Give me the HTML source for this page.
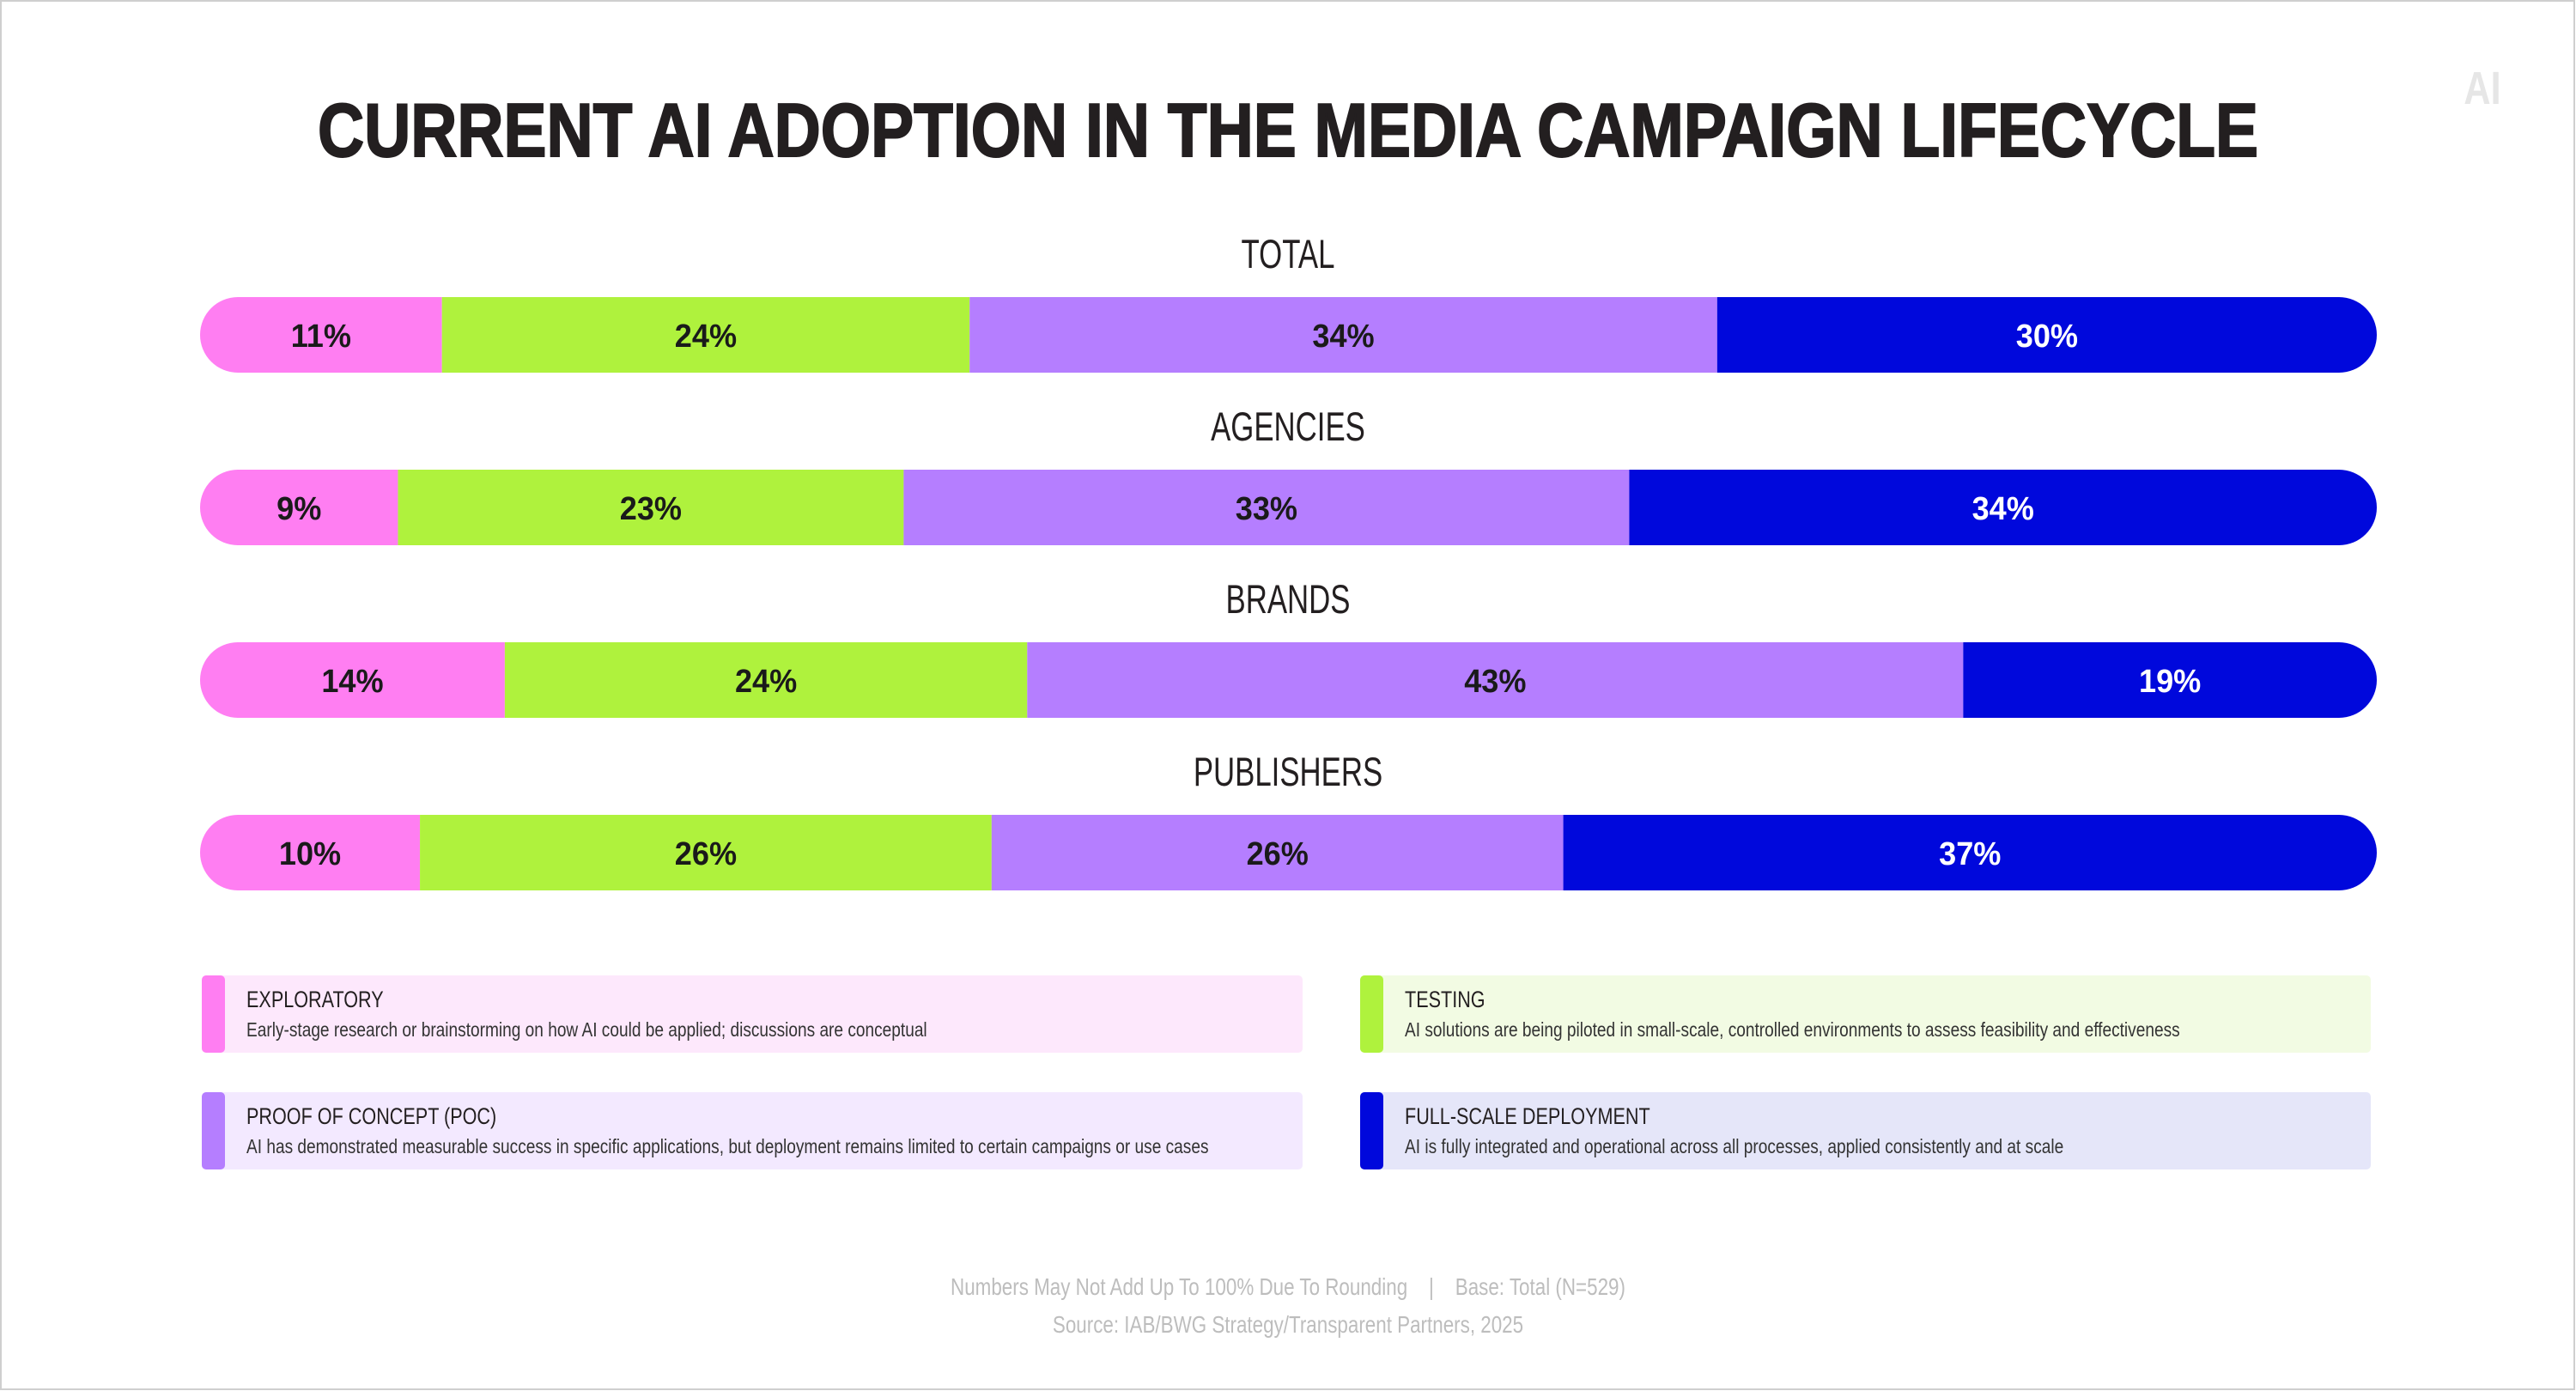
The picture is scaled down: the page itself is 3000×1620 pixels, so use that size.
<!DOCTYPE html>
<html><head><meta charset="utf-8"><style>
html,body{margin:0;padding:0;background:#fff;}
svg{display:block;font-family:"Liberation Sans",sans-serif;}
.pre{white-space:pre;}
</style></head><body>
<svg id="chart" width="3000" height="1620" viewBox="0 0 3000 1620" xmlns="http://www.w3.org/2000/svg">
<rect x="1" y="1" width="2997" height="1617" fill="#fff" stroke="#cfcfcf" stroke-width="2"/>
<text x="2891" y="121" text-anchor="middle" font-size="54" font-weight="bold" fill="#e6e6e6" class="cond">AI</text>
<text x="1500" y="182" text-anchor="middle" font-size="88" font-weight="bold" fill="#231f20" stroke="#231f20" stroke-width="2" textLength="2260" lengthAdjust="spacingAndGlyphs">CURRENT AI ADOPTION IN THE MEDIA CAMPAIGN LIFECYCLE</text>
<g id="bars"></g>
<g id="legend"></g>
<text x="1500" y="1508" text-anchor="middle" font-size="28" fill="#bdbdbd" class="cond pre" xml:space="preserve">Numbers May Not Add Up To 100% Due To Rounding    |    Base: Total (N=529)</text>
<text x="1500" y="1552" text-anchor="middle" font-size="28" fill="#bdbdbd" class="cond">Source: IAB/BWG Strategy/Transparent Partners, 2025</text>
</svg>
<script>
const categories = ["TOTAL", "AGENCIES", "BRANDS", "PUBLISHERS"];
const exploratory = [11, 9, 14, 10];
const testing = [24, 23, 24, 26];
const poc = [34, 33, 43, 26];
const fullScale = [30, 34, 19, 37];
const seriesNames = ["EXPLORATORY", "TESTING", "PROOF OF CONCEPT (POC)", "FULL-SCALE DEPLOYMENT"];
const seriesDesc = [
 "Early-stage research or brainstorming on how AI could be applied; discussions are conceptual",
 "AI solutions are being piloted in small-scale, controlled environments to assess feasibility and effectiveness",
 "AI has demonstrated measurable success in specific applications, but deployment remains limited to certain campaigns or use cases",
 "AI is fully integrated and operational across all processes, applied consistently and at scale"
];

const NS = "http://www.w3.org/2000/svg";
const colors = ["#ff7ef2", "#aff23d", "#b57eff", "#0008dc"];
const textColors = ["#1a1a1a", "#1a1a1a", "#1a1a1a", "#ffffff"];
const lightColors = ["#fde8fc", "#f2fbe3", "#f3e9ff", "#e5e6f9"];
const series = [exploratory, testing, poc, fullScale];
const keys = ["exploratory", "testing", "poc", "full-scale"];
const X0 = 233, X1 = 2768, BAR_H = 88;
const rowY = i => 346 + i * 201; // bar top
function mk(tag, attrs, parent) {
  const e = document.createElementNS(NS, tag);
  for (const k in attrs) e.setAttribute(k, attrs[k]);
  parent.appendChild(e);
  return e;
}
const svg = document.getElementById('chart');
const bars = document.getElementById('bars');
const defs = mk('defs', {}, svg);

categories.forEach((cat, i) => {
  const y = rowY(i);
  const lbl = mk('text', {x: 1500, y: y - 34, 'text-anchor': 'middle', 'font-size': 47, fill: '#231f20', class: 'cond7'}, bars);
  lbl.textContent = cat;
  
  
  const cp = mk('clipPath', {id: 'clip' + i}, defs);
  mk('rect', {x: X0, y: y, width: X1 - X0, height: BAR_H, rx: BAR_H / 2, ry: BAR_H / 2}, cp);
  const g = mk('g', {'clip-path': 'url(#clip' + i + ')'}, bars);
  
  
  let sum = 0;
  series.forEach(s => sum += s[i]);
  const xs = v => X0 + (X1 - X0) * v / sum;
  let acc = 0;
  series.forEach((s, k) => {
    const xa = xs(acc), xb = xs(acc + s[i]);
    const r = mk('rect', {x: xa, y: y, width: xb - xa, height: BAR_H, fill: colors[k]}, g);
    
    
    const t = mk('text', {x: (xa + xb) / 2, y: y + BAR_H / 2 + 14, 'text-anchor': 'middle', 'font-size': 38, 'font-weight': 'bold', fill: textColors[k], class: 'cond9'}, bars);
    t.textContent = s[i] + '%';
    
    
    acc += s[i];
  });
});

const legend = document.getElementById('legend');
const boxes = [[235, 1136, 1282], [1584, 1136, 1177], [235, 1272, 1282], [1584, 1272, 1177]];
seriesNames.forEach((n, k) => {
  const [bx, by, bw] = boxes[k];
  const g = mk('g', {}, legend);
  
  
  mk('rect', {x: bx, y: by, width: bw, height: 90, rx: 5, fill: lightColors[k]}, g);
  mk('rect', {x: bx, y: by, width: 27, height: 90, rx: 5, fill: colors[k]}, g);
  const t = mk('text', {x: bx + 52, y: by + 37, 'font-size': 27, fill: '#231f20', class: 'cond'}, g);
  t.textContent = n;
  const d = mk('text', {x: bx + 52, y: by + 71, 'font-size': 23, fill: '#333', class: 'cond83'}, g);
  d.textContent = seriesDesc[k];
});

function condense(sel, f) {
  document.querySelectorAll(sel).forEach(e => {
    const w = e.getComputedTextLength();
    e.setAttribute('textLength', w * f);
    e.setAttribute('lengthAdjust', 'spacingAndGlyphs');
  });
}
condense('.cond', 0.8);
condense('.cond7', 0.74);
condense('.cond83', 0.83);
condense('.cond9', 0.95);
</script>
</body></html>
